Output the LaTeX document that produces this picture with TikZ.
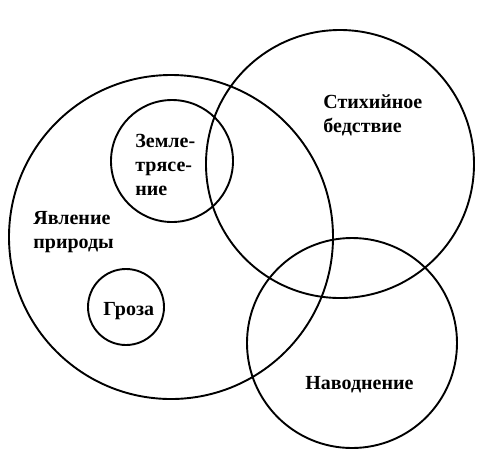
\documentclass[tikz,border=0pt]{standalone}
\usepackage{fontspec}
\setmainfont{Liberation Serif}
\usepackage{tikz}
\usetikzlibrary{positioning}

\begin{document}
\begin{tikzpicture}[
  x=0.5pt, y=-0.5pt,
  font=\fontsize{10}{12}\selectfont\bfseries,
  set/.style={circle, draw=black, line width=0.95pt, inner sep=0pt},
  lbl/.style={anchor=base west, align=left, inner sep=0pt}
]
\useasboundingbox (0,0) rectangle (477,452);

% sets
\node[set, minimum size=162pt] (nature) at (171,237) {};
\node[set, minimum size=134pt] (disaster) at (340,164) {};
\node[set, minimum size=105pt] (flood) at (352,343) {};
\node[set, minimum size=61pt] (quake) at (172,161) {};
\node[set, minimum size=38pt] (storm) at (126,307) {};

% labels (base = last line)
\node[lbl] (disasterlbl) at (323,132) {Стихийное\\бедствие};
\node[lbl] (quakelbl) at (135,195) {Земле-\\трясе-\\ние};
\node[lbl] (naturelbl) at (33,248) {Явление\\природы};
\node[lbl] (stormlbl) at (103,315) {Гроза};
\node[lbl] (floodlbl) at (305,389) {Наводнение};

\end{tikzpicture}
\end{document}
